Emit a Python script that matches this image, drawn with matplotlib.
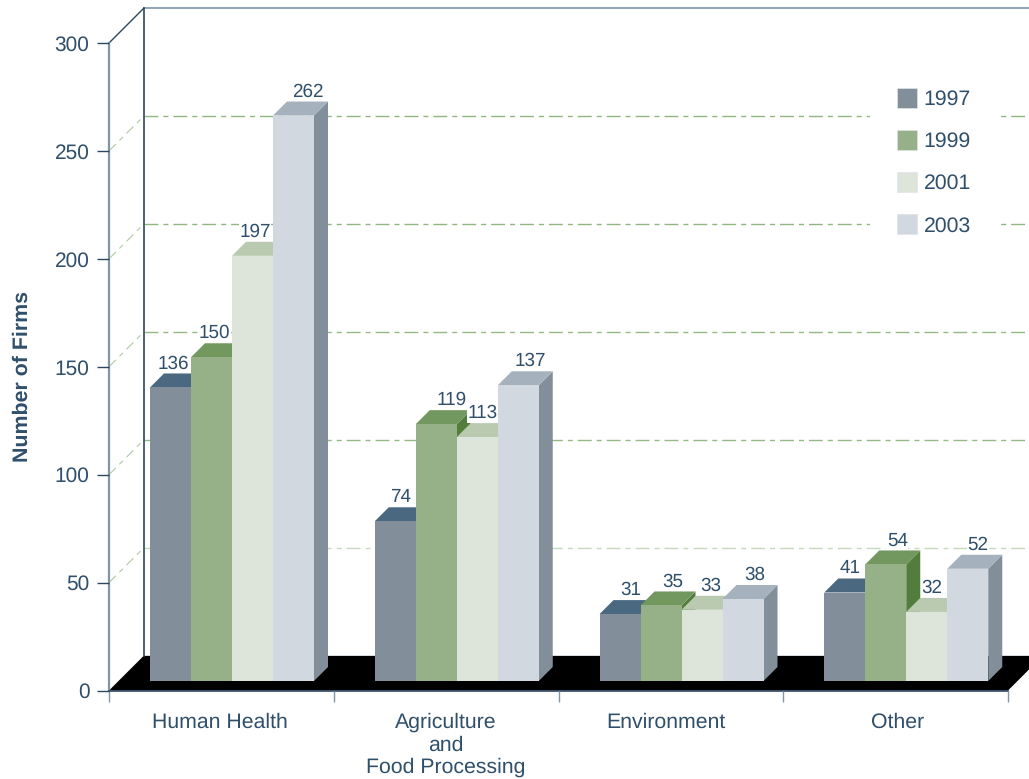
import matplotlib
matplotlib.use("Agg")
import matplotlib.pyplot as plt
from matplotlib.patches import Polygon, Patch

plt.rcParams['font.family'] = ['Liberation Sans', 'DejaVu Sans']
plt.rcParams['text.hinting'] = 'no_hinting'
plt.rcParams['lines.scale_dashes'] = False

categories = ["Human Health", "Agriculture\nand\nFood Processing", "Environment", "Other"]
years = ["1997", "1999", "2001", "2003"]
firms_1997 = [136, 74, 31, 41]
firms_1999 = [150, 119, 35, 54]
firms_2001 = [197, 113, 33, 32]
firms_2003 = [262, 137, 38, 52]
y_ticks = [0, 50, 100, 150, 200, 250, 300]

front_colors = ['#838e9b', '#96b088', '#dde5da', '#d1d8df']
top_colors = ['#4a6880', '#72985f', '#b9cab0', '#a5b2bd']
side_colors = ['#3f5c72', '#527d3c', '#b9cab0', '#838e9b']
text_color = '#2f4f6b'
navy = '#2c4860'
wall_grey = '#7f96aa'

# label shifts in pixels, one row per category
label_shift = [[2.5, 2.5, 2.5, 14.5],
               [5.5, 15.5, 5.5, 12.5],
               [10.5, 11.5, 8.5, 11.5],
               [5.5, 11.5, 5.5, 10.5]]
cat_label_shift = [-1.5, 0, -4.5, 2]
grid_colors = {50: '#c6dabb', 100: '#94b985', 150: '#94b985', 200: '#8fb67f', 250: '#8fb67f'}

W, H = 1029, 779
fig = plt.figure(figsize=(W/100, H/100), dpi=100, facecolor='white')
ax = fig.add_axes([109/W, (H-690.5)/H, 899/W, 647.5/H])
ax.set_xlim(0, 4)
ax.set_ylim(0, 300)

# pixel sizes expressed in data units
px = 4/899
py = 300/647.5
wall_dx, wall_dy = 34.5*px, 34.5*py
bar_dx, bar_dy = 14*px, 14*py
bar_w = 41*px
bar_start = 41*px
bar_base = 9.5*py
x_end = 4.2

def poly(points, color, z):
    ax.add_patch(Polygon(points, closed=True, facecolor=color, edgecolor='none',
                         clip_on=False, zorder=z))

# floor and walls
poly([(0, 0), (4, 0), (4+wall_dx, wall_dy), (wall_dx, wall_dy)], 'black', 1.5)
ax.plot([wall_dx, wall_dx], [wall_dy, 300+wall_dy], color=navy, lw=1.2, clip_on=False, zorder=1.6)
ax.plot([wall_dx, x_end], [300+wall_dy]*2, color=wall_grey, lw=1.2, clip_on=False, zorder=1)
ax.plot([0, wall_dx], [300, 300+wall_dy], color=navy, lw=1, clip_on=False, zorder=1)
ax.plot([wall_dx, x_end], [wall_dy]*2, color=navy, lw=1, clip_on=False, zorder=1)

for level in y_ticks[1:-1]:
    ax.plot([wall_dx, x_end], [level+wall_dy]*2, color=grid_colors[level], lw=1.0,
            dashes=(10, 3.6, 3.6, 3.6), clip_on=False, zorder=1)
    ax.plot([0, wall_dx], [level, level+wall_dy], color='#b0cba4', lw=0.8,
            dashes=(7, 3.6, 3.6, 3.6), clip_on=False, zorder=1)

series = [firms_1997, firms_1999, firms_2001, firms_2003]
z = 3
for i in range(len(categories)):
    for j, values in enumerate(series):
        v = values[i]
        x0 = i + bar_start + j*bar_w
        x1 = x0 + bar_w
        top = bar_base + v
        poly([(x1, bar_base), (x1+bar_dx, bar_base+bar_dy), (x1+bar_dx, top+bar_dy), (x1, top)],
             side_colors[j], z)
        poly([(x0, top), (x1, top), (x1+bar_dx, top+bar_dy), (x0+bar_dx, top+bar_dy)],
             top_colors[j], z)
        ax.bar(x0, v, bar_w, bottom=bar_base, align='edge', color=front_colors[j],
               linewidth=0, clip_on=False, zorder=z+0.5)
        ax.annotate(str(v), (x0+bar_w/2, top), xytext=(label_shift[i][j]*0.72, 24*0.72),
                    textcoords='offset points', ha='center', va='center', fontsize=13.6,
                    color=text_color, zorder=50, annotation_clip=False,
                    bbox=dict(facecolor='white', edgecolor='none', pad=0.4))
        z += 1

# axes decoration
for name in ['top', 'right']:
    ax.spines[name].set_visible(False)
ax.spines['left'].set_color(wall_grey)
ax.spines['left'].set_linewidth(1.6)
ax.spines['bottom'].set_color(navy)
ax.spines['bottom'].set_linewidth(1.2)
ax.spines['left'].set_zorder(2)
ax.spines['bottom'].set_zorder(2)
ax.set_yticks(y_ticks)
ax.tick_params(axis='y', length=8.6, width=1, color=navy, labelcolor=text_color,
               labelsize=15, pad=5.5)
ax.set_xticks(range(5))
ax.set_xticklabels([])
ax.tick_params(axis='x', which='major', length=8, width=1, color=wall_grey)
ax.set_axisbelow(False)

for i, name in enumerate(categories):
    ax.annotate(name, (i+0.5, 0), xytext=(cat_label_shift[i]*0.72, -22*0.72),
                textcoords='offset points', ha='center', va='top', fontsize=15.3,
                color=text_color, linespacing=1.2, annotation_clip=False)

fig.text(22.5/W, 1-376/H, "Number of Firms", rotation=90, ha='center', va='center',
         fontsize=15.4, fontweight='bold', color=text_color)

handles = [Patch(facecolor=c, edgecolor='#dfe3e6', linewidth=0.5) for c in front_colors]
leg = ax.legend(handles, years, loc='upper left', bbox_to_anchor=(870/W, 1-61/H),
                bbox_transform=fig.transFigure, borderaxespad=0, borderpad=1.25,
                handlelength=0.94, handleheight=1.07, handletextpad=0.33,
                labelspacing=0.97, fontsize=15.3, labelcolor=text_color,
                frameon=True, fancybox=False, framealpha=1, facecolor='white',
                edgecolor='none')
leg.set_zorder(40)

fig.savefig('out.png', dpi=100)
